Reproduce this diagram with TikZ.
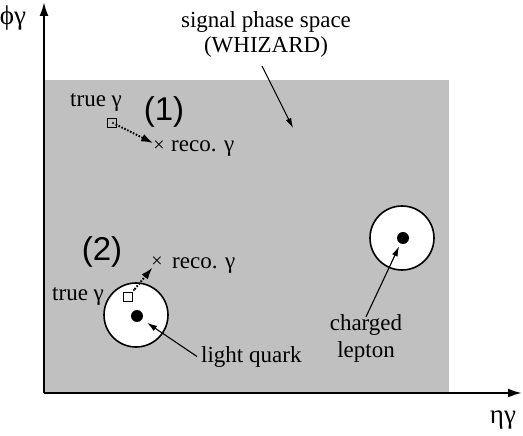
\documentclass[tikz,border=0pt]{standalone}
\usepackage{fontspec}
\setmainfont{Liberation Serif}
\newfontfamily\serifface{Liberation Serif}
\newfontfamily\numfont{Liberation Sans}
\usetikzlibrary{arrows.meta}
\definecolor{phasegray}{RGB}{192,192,192}
\begin{document}
\begin{tikzpicture}[x=1pt, y=-1pt,
    lbl/.style={font=\serifface\fontsize{23}{27}\selectfont, inner sep=0pt},
    num/.style={font=\numfont\fontsize{33}{35}\selectfont, inner sep=0pt},
    axis/.style={line width=2.2pt, -{Latex[length=14pt,width=9pt]}},
    pointer/.style={line width=1.1pt, -{Latex[length=10pt,width=6pt]}},
    smear/.style={line width=2pt, dash pattern=on 1.6pt off 1.6pt, -{Latex[length=12pt,width=8pt]}},
    jet/.style={circle, draw, line width=1.6pt, fill=white, minimum size=64pt, inner sep=0pt},
    core/.style={circle, fill=black, minimum size=12pt, inner sep=0pt},
    truebox/.style={draw, line width=0.8pt, minimum size=9pt, inner sep=0pt},
    crossmark/.style={font=\serifface\fontsize{20}{22}\selectfont, inner sep=0pt}]
    \useasboundingbox (0,0) rectangle (523,436);
    % phase space region and axes
    \fill[phasegray] (44,80) rectangle (449,393);
    \coordinate (origin) at (44,393);
    \coordinate (ytop) at (44,2);
    \coordinate (xend) at (522,393);
    \draw[axis] (origin) -- (ytop);
    \draw[axis] (origin) -- (xend);
    \node[lbl, font=\serifface\fontsize{27}{29}\selectfont] (philbl) at (13,18) {ϕγ};
    \node[lbl, font=\serifface\fontsize{27}{29}\selectfont] (etalbl) at (503,420) {ηγ};
    % signal phase space
    \node[lbl, align=center, font=\serifface\fontsize{23}{25}\selectfont, anchor=base] (signal) at (266,53) {signal phase space\\(WHIZARD)};
    \coordinate (signaltip) at (293,128);
    \draw[pointer] (262,66) -- (signaltip);
    % case (1)
    \node[num] (caseone) at (164,112) {(1)};
    \node[lbl, anchor=base west] (trueone) at (70,107) {true γ};
    \node[truebox] (sqone) at (112,123) {};
    \coordinate (dotone) at (113,123);
    \fill (dotone) circle (1.1pt);
    \node[crossmark] (crossone) at (159,146) {×};
    \node[lbl, anchor=base west] (recoone) at (171,152) {reco. γ};
    \draw[smear, shorten <=3pt] (dotone) -- (crossone);
    % case (2)
    \node[num] (casetwo) at (102,252) {(2)};
    \node[jet] (quarkjet) at (136,315) {};
    \node[core] (quark) at (137,316) {};
    \node[lbl, anchor=base west] (truetwo) at (52,300) {true γ};
    \node[truebox] (sqtwo) at (128,297) {};
    \coordinate (dottwo) at (134,290);
    \fill (dottwo) circle (1.1pt);
    \node[crossmark] (crosstwo) at (157,262) {×};
    \node[lbl, anchor=base west] (recotwo) at (172,268) {reco. γ};
    \draw[smear, shorten <=1pt] (dottwo) -- (crosstwo);
    % light quark
    \node[lbl, anchor=base west] (quarklbl) at (201,362) {light quark};
    \draw[pointer, shorten >=6pt] ([xshift=-4pt]quarklbl.west) -- (quark);
    % charged lepton
    \node[jet] (leptonjet) at (402,238) {};
    \node[core] (lepton) at (403,238) {};
    \node[lbl, align=center, anchor=base] (leptonlbl) at (366,357) {charged\\lepton};
    \draw[pointer, shorten >=3pt] ([yshift=-3pt]leptonlbl.north) -- (lepton);
\end{tikzpicture}
\end{document}
